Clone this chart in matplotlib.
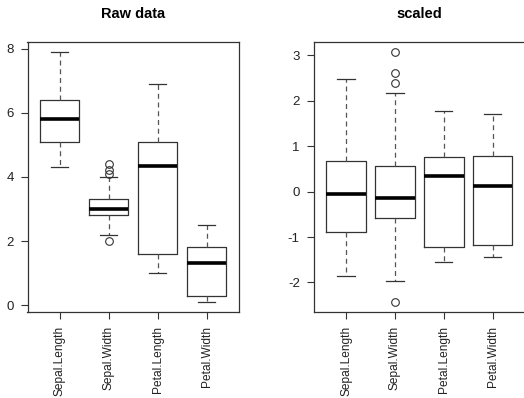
import matplotlib
matplotlib.use("Agg")
from matplotlib import pyplot as plt

# Box statistics
labels = ["Sepal.Length", "Sepal.Width", "Petal.Length", "Petal.Width"]

raw_whislo = [4.3, 2.2, 1.0, 0.1]
raw_q1 = [5.1, 2.8, 1.6, 0.3]
raw_med = [5.8, 3.0, 4.35, 1.3]
raw_q3 = [6.4, 3.3, 5.1, 1.8]
raw_whishi = [7.9, 4.0, 6.9, 2.5]
raw_fliers = [[], [4.4, 4.1, 4.2, 2.0], [], []]

sc_whislo = [-1.86, -1.97, -1.56, -1.44]
sc_q1 = [-0.90, -0.59, -1.23, -1.18]
sc_med = [-0.05, -0.13, 0.34, 0.13]
sc_q3 = [0.67, 0.56, 0.76, 0.79]
sc_whishi = [2.48, 2.16, 1.78, 1.71]
sc_fliers = [[], [3.08, 2.62, 2.39, -2.43], [], []]

plt.rcParams["font.family"] = ["Liberation Sans", "DejaVu Sans"]
plt.rcParams["axes.unicode_minus"] = False


def make_stats(lo, q1, med, q3, hi, fl):
    return [dict(label=labels[i], whislo=lo[i], q1=q1[i], med=med[i],
                 q3=q3[i], whishi=hi[i], fliers=fl[i]) for i in range(len(labels))]


def draw(ax, stats):
    ax.bxp(
        stats,
        positions=range(1, len(stats) + 1),
        widths=0.8,
        showfliers=True,
        boxprops=dict(color="#333333", linewidth=0.9),
        whiskerprops=dict(color="#555555", linewidth=0.9, linestyle=(0, (4, 3))),
        capprops=dict(color="#333333", linewidth=0.9),
        capwidths=0.35,
        medianprops=dict(color="black", linewidth=2.6),
        flierprops=dict(marker="o", markersize=5.5, markerfacecolor="none",
                        markeredgecolor="#333333", markeredgewidth=0.8),
    )
    lo = min(min([s["whislo"]] + list(s["fliers"])) for s in stats)
    hi = max(max([s["whishi"]] + list(s["fliers"])) for s in stats)
    pad = 0.04 * (hi - lo)
    ax.set_ylim(lo - pad, hi + pad)
    ax.set_xlim(0.5 - 0.16, len(stats) + 0.5 + 0.16)
    ax.set_xticks(range(1, len(stats) + 1))
    ax.set_xticklabels(labels, rotation=90, fontsize=8.6)
    ax.tick_params(axis="both", direction="out", length=5, width=0.8,
                   color="#333333", labelcolor="#222222", pad=5)
    ax.tick_params(axis="y", labelsize=9.5)
    for sp in ax.spines.values():
        sp.set_color("#333333")
        sp.set_linewidth(0.9)


fig = plt.figure(figsize=(5.24, 3.98), dpi=100)
ax1 = fig.add_axes([27.5 / 524, 86 / 398, 211.5 / 524, 270.3 / 398])
ax2 = fig.add_axes([313.7 / 524, 86 / 398, 211.5 / 524, 270.3 / 398])

draw(ax1, make_stats(raw_whislo, raw_q1, raw_med, raw_q3, raw_whishi, raw_fliers))
ax1.set_yticks([0, 2, 4, 6, 8])
draw(ax2, make_stats(sc_whislo, sc_q1, sc_med, sc_q3, sc_whishi, sc_fliers))
ax2.set_yticks([-2, -1, 0, 1, 2, 3])

fig.text(133 / 524, 1 - 14 / 398, "Raw data", ha="center", va="center",
         fontsize=10.5, fontweight="bold")
fig.text(419.5 / 524, 1 - 14 / 398, "scaled", ha="center", va="center",
         fontsize=10.5, fontweight="bold")

fig.savefig("out.png", dpi=100)
